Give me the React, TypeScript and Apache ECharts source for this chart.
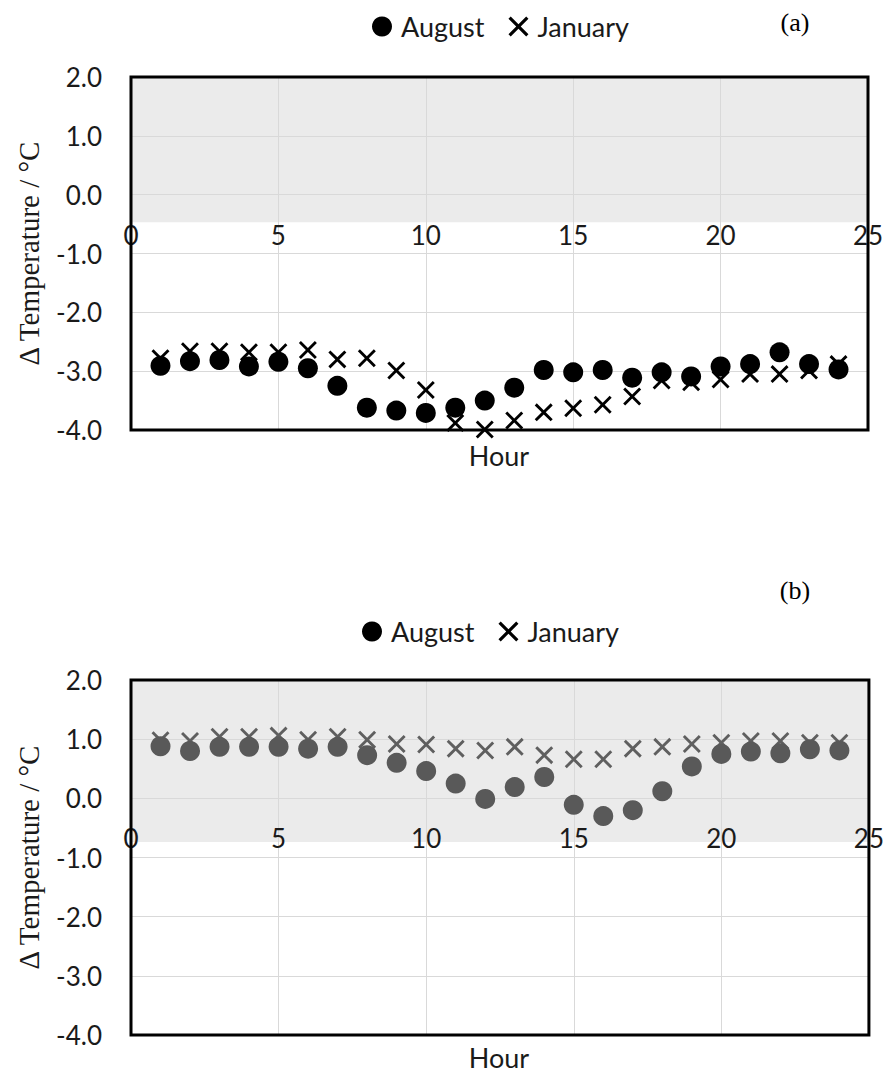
import React, { useEffect, useRef } from "react";
import * as echarts from "echarts";

const HOURS = [1, 2, 3, 4, 5, 6, 7, 8, 9, 10, 11, 12, 13, 14, 15, 16, 17, 18, 19, 20, 21, 22, 23, 24];

const AUGUST_A = [-2.91, -2.83, -2.81, -2.92, -2.84, -2.95, -3.25, -3.62, -3.67, -3.71, -3.62, -3.5, -3.28, -2.98, -3.02, -2.98, -3.11, -3.02, -3.09, -2.92, -2.88, -2.68, -2.88, -2.97];
const JANUARY_A = [-2.78, -2.66, -2.66, -2.68, -2.68, -2.64, -2.8, -2.78, -2.99, -3.32, -3.88, -3.99, -3.84, -3.7, -3.63, -3.57, -3.43, -3.16, -3.19, -3.14, -3.05, -3.05, -2.99, -2.88];

const AUGUST_B = [0.88, 0.8, 0.87, 0.87, 0.87, 0.84, 0.87, 0.73, 0.6, 0.46, 0.25, -0.01, 0.19, 0.36, -0.11, -0.3, -0.2, 0.12, 0.54, 0.75, 0.79, 0.76, 0.83, 0.81];
const JANUARY_B = [0.98, 0.97, 1.04, 1.04, 1.06, 0.99, 1.04, 0.99, 0.92, 0.91, 0.84, 0.81, 0.87, 0.73, 0.66, 0.66, 0.84, 0.87, 0.92, 0.94, 0.97, 0.97, 0.94, 0.94];

const X_RANGE = [0, 25];
const X_INTERVAL = 5;
const Y_RANGE = [-4, 2];
const Y_INTERVAL = 1;
const X_CROSS_AT = 0;
const BAND_A = [2, -0.47];
const BAND_B = [2, -0.74];

const Y_NAME = "Δ Temperature / °C";
const X_NAME = "Hour";
const LEGEND_NAMES = ["August", "January"];
const PANEL_LABELS = ["(a)", "(b)"];

const XPATH =
  "path://M1.8,0L8,6.2L14.2,0L16,1.8L9.8,8L16,14.2L14.2,16L8,9.8L1.8,16L0,14.2L6.2,8L0,1.8Z";

const SANS = "Lato, 'Open Sans', sans-serif";
const SERIF = "'Liberation Serif', 'DejaVu Serif', serif";

const GRIDS = [
  { left: 131, top: 77, width: 737, height: 353 },
  { left: 131, top: 680, width: 739, height: 355 },
];

function pairs(vals: number[]) {
  return HOURS.map((h, i) => [h, vals[i]]);
}

function makeX(gridIndex: number) {
  const g = GRIDS[gridIndex];
  // place the axis labels where y = X_CROSS_AT, measured along the grid height
  const offset = -(g.height * (X_CROSS_AT - Y_RANGE[0])) / (Y_RANGE[1] - Y_RANGE[0]);
  return {
    type: "value",
    gridIndex,
    min: X_RANGE[0],
    max: X_RANGE[1],
    interval: X_INTERVAL,
    position: "bottom",
    offset,
    z: 3,
    axisLine: { show: false, onZero: false },
    axisTick: { show: false },
    axisLabel: { margin: 27, fontSize: 26, fontFamily: SANS, color: "#1a1a1a", showMinLabel: true, showMaxLabel: true },
    splitLine: { show: true, lineStyle: { color: "#d9d9d9", width: 1 } },
  };
}

function makeY(gridIndex: number) {
  return {
    type: "value",
    gridIndex,
    min: Y_RANGE[0],
    max: Y_RANGE[1],
    interval: Y_INTERVAL,
    z: 3,
    name: Y_NAME,
    nameLocation: "middle",
    nameGap: 88,
    nameTextStyle: { fontFamily: SERIF, fontSize: 29, color: "#1a1a1a" },
    axisLine: { show: false },
    axisTick: { show: false },
    axisLabel: { margin: 29, fontSize: 26, fontFamily: SANS, color: "#1a1a1a", formatter: (v: number) => v.toFixed(1) },
    splitLine: { show: true, lineStyle: { color: "#d9d9d9", width: 1 } },
  };
}

function makeLegend(left: number, top: number) {
  return {
    left,
    top,
    padding: 0,
    itemWidth: 28,
    itemHeight: 20,
    itemGap: 24,
    selectedMode: false,
    textStyle: { fontSize: 27, fontFamily: SANS, color: "#1a1a1a" },
    itemStyle: { color: "#000", opacity: 1 },
    data: [
      { name: LEGEND_NAMES[0], icon: "circle" },
      { name: LEGEND_NAMES[1], icon: XPATH },
    ],
  };
}

function bandSeries(idx: number, band: number[]) {
  return {
    type: "scatter",
    name: "band" + idx,
    xAxisIndex: idx,
    yAxisIndex: idx,
    data: [],
    silent: true,
    z: 1,
    markArea: {
      silent: true,
      z: 1,
      itemStyle: { color: "rgba(0,0,0,0.08)" },
      data: [[{ coord: [X_RANGE[0], band[0]] }, { coord: [X_RANGE[1], band[1]] }]],
    },
  };
}

export default function App() {
  const ref = useRef<HTMLDivElement>(null);
  useEffect(() => {
    const chart = echarts.init(ref.current!, null, { renderer: "svg" });
    const option = {
      animation: false,
      backgroundColor: "#fff",
      grid: GRIDS.map((g) => ({ ...g, show: true, z: 4, borderColor: "#000", borderWidth: 3, backgroundColor: "transparent" })),
      xAxis: [makeX(0), makeX(1)],
      yAxis: [makeY(0), makeY(1)],
      legend: [makeLegend(372, 13), makeLegend(362, 618)],
      series: [
        bandSeries(0, BAND_A),
        bandSeries(1, BAND_B),
        { type: "scatter", name: "January", xAxisIndex: 0, yAxisIndex: 0, z: 5, symbol: XPATH, symbolSize: 18, itemStyle: { color: "#000", opacity: 1 }, data: pairs(JANUARY_A) },
        { type: "scatter", name: "August", xAxisIndex: 0, yAxisIndex: 0, z: 6, symbol: "circle", symbolSize: 20, itemStyle: { color: "#000", opacity: 1 }, data: pairs(AUGUST_A) },
        { type: "scatter", name: "January", xAxisIndex: 1, yAxisIndex: 1, z: 5, symbol: XPATH, symbolSize: 18, itemStyle: { color: "#5f5f5f", opacity: 1 }, data: pairs(JANUARY_B) },
        { type: "scatter", name: "August", xAxisIndex: 1, yAxisIndex: 1, z: 6, symbol: "circle", symbolSize: 20, itemStyle: { color: "#595959", opacity: 1 }, data: pairs(AUGUST_B) },
      ],
      graphic: [
        { type: "text", x: 499, y: 455, style: { text: X_NAME, font: `27px ${SANS}`, fill: "#1a1a1a", align: "center", verticalAlign: "middle", textAlign: "center", textVerticalAlign: "middle" } },
        { type: "text", x: 499, y: 1057, style: { text: X_NAME, font: `27px ${SANS}`, fill: "#1a1a1a", align: "center", verticalAlign: "middle", textAlign: "center", textVerticalAlign: "middle" } },
        { type: "text", x: 795, y: 22, style: { text: PANEL_LABELS[0], font: `26px ${SERIF}`, fill: "#000", align: "center", verticalAlign: "middle", textAlign: "center", textVerticalAlign: "middle" } },
        { type: "text", x: 795, y: 590, style: { text: PANEL_LABELS[1], font: `26px ${SERIF}`, fill: "#000", align: "center", verticalAlign: "middle", textAlign: "center", textVerticalAlign: "middle" } },
      ],
    };
    chart.setOption(option as any);
    return () => chart.dispose();
  }, []);
  return (
    <div
      ref={ref}
      style={{ position: "absolute", left: 0, top: 0, width: 887, height: 1073, background: "#fff" }}
    />
  );
}
